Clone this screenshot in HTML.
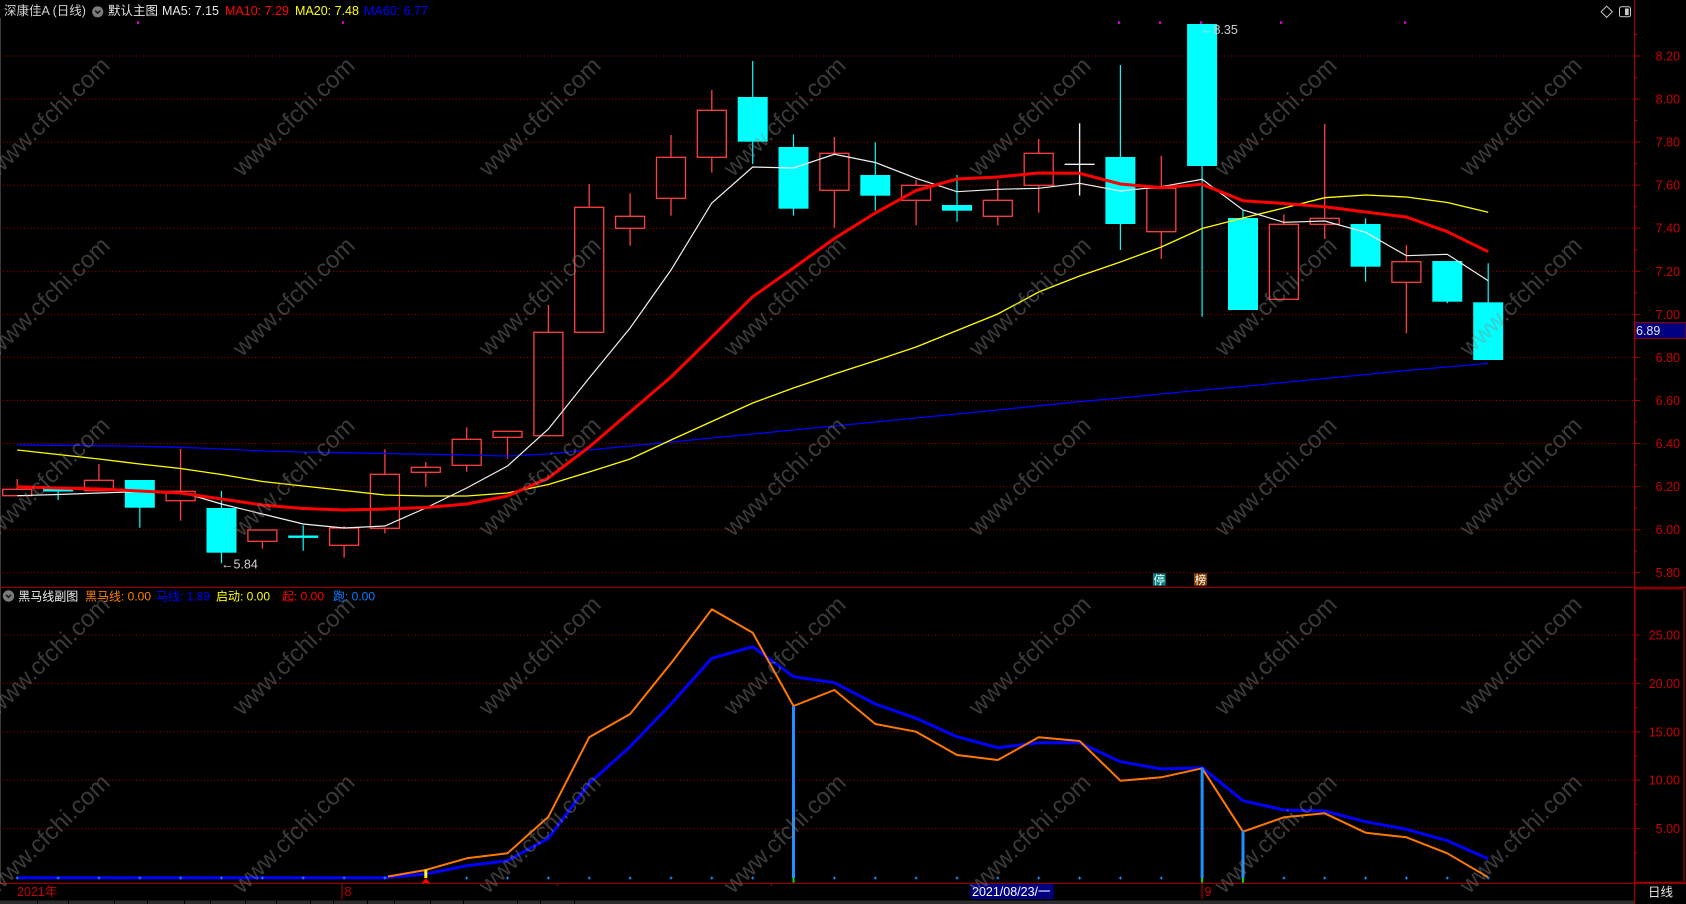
<!DOCTYPE html>
<html><head><meta charset="utf-8"><style>
html,body{margin:0;padding:0;background:#000;}
svg{display:block;}
text{font-family:"Liberation Sans","DejaVu Sans","Noto Sans CJK SC",sans-serif;}
</style></head><body>
<svg width="1686" height="904" viewBox="0 0 1686 904" xmlns="http://www.w3.org/2000/svg">
<rect x="0" y="0" width="1686" height="904" fill="#000"/>
<!-- left border -->
<line x1="0.5" y1="18" x2="0.5" y2="883" stroke="#3a3a3a" stroke-width="1"/>
<!-- main gridlines -->
<g stroke="#a00000" stroke-width="1" stroke-dasharray="1 2.4">
<line x1="0" y1="56" x2="1634" y2="56"/>
<line x1="0" y1="99.1" x2="1634" y2="99.1"/>
<line x1="0" y1="142.1" x2="1634" y2="142.1"/>
<line x1="0" y1="185.2" x2="1634" y2="185.2"/>
<line x1="0" y1="228.2" x2="1634" y2="228.2"/>
<line x1="0" y1="271.3" x2="1634" y2="271.3"/>
<line x1="0" y1="314.4" x2="1634" y2="314.4"/>
<line x1="0" y1="357.4" x2="1634" y2="357.4"/>
<line x1="0" y1="400.5" x2="1634" y2="400.5"/>
<line x1="0" y1="443.5" x2="1634" y2="443.5"/>
<line x1="0" y1="486.6" x2="1634" y2="486.6"/>
<line x1="0" y1="529.7" x2="1634" y2="529.7"/>
<line x1="0" y1="572.7" x2="1634" y2="572.7"/>
<!-- sub gridlines -->
<line x1="0" y1="635" x2="1634" y2="635"/>
<line x1="0" y1="683.4" x2="1634" y2="683.4"/>
<line x1="0" y1="731.8" x2="1634" y2="731.8"/>
<line x1="0" y1="780.2" x2="1634" y2="780.2"/>
<line x1="0" y1="828.6" x2="1634" y2="828.6"/>
</g>
<!-- separators and axes -->
<g stroke="#a00000" stroke-width="1.2" fill="none">
<line x1="0" y1="587.3" x2="1686" y2="587.3"/>
<line x1="0" y1="883.3" x2="1686" y2="883.3"/>
<line x1="1634.5" y1="0" x2="1634.5" y2="904"/>
<rect x="1635" y="588.8" width="49" height="293.5"/>
<line x1="342" y1="883" x2="342" y2="899"/>
<line x1="1202" y1="883" x2="1202" y2="899"/>
<line x1="557.5" y1="883" x2="557.5" y2="886"/>
<line x1="771.5" y1="883" x2="771.5" y2="886"/>
</g>
<!-- main axis ticks -->
<g stroke="#a00000" stroke-width="1">
<line x1="1634" y1="56" x2="1640.5" y2="56"/><line x1="1634" y1="77.6" x2="1637.5" y2="77.6"/>
<line x1="1634" y1="99.1" x2="1640.5" y2="99.1"/><line x1="1634" y1="120.6" x2="1637.5" y2="120.6"/>
<line x1="1634" y1="142.1" x2="1640.5" y2="142.1"/><line x1="1634" y1="163.7" x2="1637.5" y2="163.7"/>
<line x1="1634" y1="185.2" x2="1640.5" y2="185.2"/><line x1="1634" y1="206.7" x2="1637.5" y2="206.7"/>
<line x1="1634" y1="228.2" x2="1640.5" y2="228.2"/><line x1="1634" y1="249.8" x2="1637.5" y2="249.8"/>
<line x1="1634" y1="271.3" x2="1640.5" y2="271.3"/><line x1="1634" y1="292.8" x2="1637.5" y2="292.8"/>
<line x1="1634" y1="314.4" x2="1640.5" y2="314.4"/><line x1="1634" y1="335.9" x2="1637.5" y2="335.9"/>
<line x1="1634" y1="357.4" x2="1640.5" y2="357.4"/><line x1="1634" y1="379" x2="1637.5" y2="379"/>
<line x1="1634" y1="400.5" x2="1640.5" y2="400.5"/><line x1="1634" y1="422" x2="1637.5" y2="422"/>
<line x1="1634" y1="443.5" x2="1640.5" y2="443.5"/><line x1="1634" y1="465" x2="1637.5" y2="465"/>
<line x1="1634" y1="486.6" x2="1640.5" y2="486.6"/><line x1="1634" y1="508.1" x2="1637.5" y2="508.1"/>
<line x1="1634" y1="529.7" x2="1640.5" y2="529.7"/><line x1="1634" y1="551.2" x2="1637.5" y2="551.2"/>
<line x1="1634" y1="572.7" x2="1640.5" y2="572.7"/><line x1="1634" y1="34.5" x2="1637.5" y2="34.5"/>
<!-- sub ticks -->
<line x1="1634" y1="635" x2="1640.5" y2="635"/><line x1="1634" y1="659.2" x2="1637.5" y2="659.2"/>
<line x1="1634" y1="683.4" x2="1640.5" y2="683.4"/><line x1="1634" y1="707.6" x2="1637.5" y2="707.6"/>
<line x1="1634" y1="731.8" x2="1640.5" y2="731.8"/><line x1="1634" y1="756" x2="1637.5" y2="756"/>
<line x1="1634" y1="780.2" x2="1640.5" y2="780.2"/><line x1="1634" y1="804.4" x2="1637.5" y2="804.4"/>
<line x1="1634" y1="828.6" x2="1640.5" y2="828.6"/><line x1="1634" y1="852.8" x2="1637.5" y2="852.8"/>
</g>
<!-- axis labels -->
<g fill="#c80000" font-size="12.5" text-anchor="end">
<text x="1680" y="60.5">8.20</text>
<text x="1680" y="103.6">8.00</text>
<text x="1680" y="146.6">7.80</text>
<text x="1680" y="189.7">7.60</text>
<text x="1680" y="232.7">7.40</text>
<text x="1680" y="275.8">7.20</text>
<text x="1680" y="318.9">7.00</text>
<text x="1680" y="361.9">6.80</text>
<text x="1680" y="405">6.60</text>
<text x="1680" y="448">6.40</text>
<text x="1680" y="491.1">6.20</text>
<text x="1680" y="534.2">6.00</text>
<text x="1680" y="577.2">5.80</text>
<text x="1680" y="639.5">25.00</text>
<text x="1680" y="687.9">20.00</text>
<text x="1680" y="736.3">15.00</text>
<text x="1680" y="784.7">10.00</text>
<text x="1680" y="833.1">5.00</text>
</g>
<rect x="1635" y="322.7" width="51" height="15.6" fill="#000080" stroke="#a00000" stroke-width="1"/>
<text x="1636" y="335" fill="#e6e6e6" font-size="12.5">6.89</text>

<!-- candles: up (hollow red) -->
<g stroke="#ff4040" stroke-width="1.3" fill="none">
<rect x="2.7" y="489.3" width="29" height="6.4"/><line x1="17.2" y1="479" x2="17.2" y2="489.3"/>
<rect x="84.4" y="480.3" width="29" height="10.4"/><line x1="98.9" y1="464" x2="98.9" y2="480.3"/>
<rect x="166.1" y="491.3" width="29" height="9.4"/><line x1="180.6" y1="449" x2="180.6" y2="491.3"/><line x1="180.6" y1="500.7" x2="180.6" y2="520.7"/>
<rect x="247.9" y="530" width="29" height="11.3"/><line x1="262.4" y1="541.3" x2="262.4" y2="548.7"/>
<rect x="329.6" y="528" width="29" height="17.3"/><line x1="344.1" y1="526" x2="344.1" y2="528"/><line x1="344.1" y1="545.3" x2="344.1" y2="557.7"/>
<rect x="370.4" y="474.3" width="29" height="54"/><line x1="384.9" y1="449.3" x2="384.9" y2="474.3"/><line x1="384.9" y1="528.3" x2="384.9" y2="533.3"/>
<rect x="411.3" y="467.3" width="29" height="5"/><line x1="425.8" y1="462" x2="425.8" y2="467.3"/><line x1="425.8" y1="472.3" x2="425.8" y2="486.7"/>
<rect x="452.2" y="439.3" width="29" height="26"/><line x1="466.7" y1="427.3" x2="466.7" y2="439.3"/><line x1="466.7" y1="465.3" x2="466.7" y2="471.7"/>
<rect x="493" y="431.3" width="29" height="6"/><line x1="507.5" y1="437.3" x2="507.5" y2="458.7"/>
<rect x="533.9" y="332.3" width="29" height="103.4"/><line x1="548.4" y1="305" x2="548.4" y2="332.3"/>
<rect x="574.7" y="207.3" width="29" height="125"/><line x1="589.2" y1="184" x2="589.2" y2="207.3"/>
<rect x="615.6" y="216.3" width="29" height="12"/><line x1="630.1" y1="193.3" x2="630.1" y2="216.3"/><line x1="630.1" y1="228.3" x2="630.1" y2="245.7"/>
<rect x="656.5" y="157.3" width="29" height="41"/><line x1="671" y1="135" x2="671" y2="157.3"/><line x1="671" y1="198.3" x2="671" y2="215.7"/>
<rect x="697.3" y="110.3" width="29" height="47"/><line x1="711.8" y1="90" x2="711.8" y2="110.3"/><line x1="711.8" y1="157.3" x2="711.8" y2="172.7"/>
<rect x="819.9" y="153.3" width="29" height="37"/><line x1="834.4" y1="137" x2="834.4" y2="153.3"/><line x1="834.4" y1="190.3" x2="834.4" y2="227.7"/>
<rect x="901.6" y="185.3" width="29" height="15"/><line x1="916.1" y1="180" x2="916.1" y2="185.3"/><line x1="916.1" y1="200.3" x2="916.1" y2="225.3"/>
<rect x="983.3" y="200.3" width="29" height="16"/><line x1="997.8" y1="180" x2="997.8" y2="200.3"/><line x1="997.8" y1="216.3" x2="997.8" y2="225.3"/>
<rect x="1024.2" y="153.3" width="29" height="32"/><line x1="1038.7" y1="139" x2="1038.7" y2="153.3"/><line x1="1038.7" y1="185.3" x2="1038.7" y2="212.7"/>
<rect x="1146.8" y="188.3" width="29" height="43.4"/><line x1="1161.3" y1="156" x2="1161.3" y2="188.3"/><line x1="1161.3" y1="231.7" x2="1161.3" y2="259"/>
<rect x="1269.4" y="224.3" width="29" height="75"/><line x1="1283.9" y1="214.3" x2="1283.9" y2="224.3"/>
<rect x="1310.2" y="218.3" width="29" height="6"/><line x1="1324.7" y1="124" x2="1324.7" y2="218.3"/><line x1="1324.7" y1="224.3" x2="1324.7" y2="239"/>
<rect x="1391.9" y="261.7" width="29" height="20.6"/><line x1="1406.4" y1="245" x2="1406.4" y2="261.7"/><line x1="1406.4" y1="282.3" x2="1406.4" y2="333.3"/>
</g>
<!-- candles: down (cyan) -->
<g stroke="#00ffff" stroke-width="1.2">
<line x1="58.1" y1="489" x2="58.1" y2="500"/>
<line x1="139.8" y1="480" x2="139.8" y2="527.7"/>
<line x1="221.5" y1="491" x2="221.5" y2="563.3"/>
<line x1="303.2" y1="525.3" x2="303.2" y2="550.7"/>
<line x1="752.7" y1="61" x2="752.7" y2="164"/>
<line x1="793.5" y1="134.3" x2="793.5" y2="215.7"/>
<line x1="875.3" y1="142.3" x2="875.3" y2="210.7"/>
<line x1="957" y1="175" x2="957" y2="221.7"/>
<line x1="1120.4" y1="65" x2="1120.4" y2="250"/>
<line x1="1202.1" y1="24" x2="1202.1" y2="316.7"/>
<line x1="1243" y1="210" x2="1243" y2="310"/>
<line x1="1365.6" y1="218.3" x2="1365.6" y2="281.7"/>
<line x1="1447.3" y1="261" x2="1447.3" y2="303.3"/>
<line x1="1488.2" y1="263.3" x2="1488.2" y2="360"/>
</g>
<g fill="#00ffff">
<rect x="43.1" y="489" width="30" height="2.5"/>
<rect x="124.8" y="480" width="30" height="27.7"/>
<rect x="206.5" y="508" width="30" height="44.7"/>
<rect x="288.2" y="535.5" width="30" height="2.4"/>
<rect x="737.7" y="97" width="30" height="44.7"/>
<rect x="778.5" y="147" width="30" height="61.7"/>
<rect x="860.3" y="175" width="30" height="20.7"/>
<rect x="942" y="205" width="30" height="5.7"/>
<rect x="1105.4" y="157" width="30" height="67"/>
<rect x="1187.1" y="24" width="30" height="142"/>
<rect x="1228" y="218" width="30" height="92"/>
<rect x="1350.6" y="224" width="30" height="42.7"/>
<rect x="1432.3" y="261" width="30" height="40.7"/>
<rect x="1473.2" y="302.3" width="30" height="57.7"/>
</g>
<!-- white doji -->
<g stroke="#f0f0f0" stroke-width="1.4">
<line x1="1064.6" y1="164.3" x2="1094.6" y2="164.3"/>
<line x1="1079.6" y1="123.3" x2="1079.6" y2="195.5"/>
</g>

<!-- MA lines -->
<polyline fill="none" stroke="#0000ff" stroke-width="1.3" points="17.2,445 58.1,445.3 98.9,445.7 139.8,446.3 180.6,447.3 221.5,449 262.4,451 303.2,452 344.1,452.7 384.9,453.5 425.8,454.3 466.7,455 507.5,456 548.4,454 589.2,450 630.1,446 671,442 711.8,438 752.7,434 793.5,430 834.4,426 875.3,422 916.1,418 957,414 997.8,410 1038.7,405.8 1079.6,401.7 1120.4,398 1161.3,394 1202.1,390 1243,386.5 1283.9,382.5 1324.7,378.5 1365.6,374.5 1406.4,370.5 1447.3,367 1488.2,363.3"/>
<polyline fill="none" stroke="#ffff00" stroke-width="1.3" points="17.2,450 58.1,454.5 98.9,459 139.8,464 180.6,468.5 221.5,474.5 262.4,481.5 303.2,486 344.1,490.5 384.9,495 425.8,496 466.7,496 507.5,493 548.4,484.5 589.2,472 630.1,459 671,440 711.8,421.5 752.7,403 793.5,388 834.4,374 875.3,360.7 916.1,347 957,330.5 997.8,314 1038.7,292 1079.6,276 1120.4,262 1161.3,247 1202.1,228.5 1243,218 1283.9,208 1324.7,197.7 1365.6,195 1406.4,197 1447.3,202.5 1488.2,212.3"/>
<polyline fill="none" stroke="#f0f0f0" stroke-width="1.2" points="17.2,495.7 58.1,494.5 98.9,493 139.8,491.7 180.6,492 221.5,504 262.4,514 303.2,524 344.1,528 384.9,526 425.8,508 466.7,488 507.5,466 548.4,429 589.2,378 630.1,328 671,270 711.8,203 752.7,167 793.5,168 834.4,154.3 875.3,162.5 916.1,178.3 957,191.7 997.8,189.3 1038.7,188.3 1079.6,183.3 1120.4,191 1161.3,186.7 1202.1,179.3 1243,210 1283.9,222.3 1324.7,221 1365.6,232.3 1406.4,255.7 1447.3,254.3 1488.2,280.7"/>
<polyline fill="none" stroke="#ff0000" stroke-width="3" stroke-linejoin="round" points="17.2,486.7 58.1,488 98.9,489 139.8,491 180.6,493 221.5,499 262.4,505 303.2,508.5 344.1,510 384.9,509 425.8,507.5 466.7,504 507.5,496 548.4,478 589.2,447 630.1,412 671,377 711.8,337 752.7,296.7 793.5,268 834.4,238.5 875.3,213 916.1,190.5 957,179 997.8,177 1038.7,173 1079.6,173.3 1120.4,184 1161.3,187.7 1202.1,184.3 1243,200.7 1283.9,203.5 1324.7,206.7 1365.6,212 1406.4,217 1447.3,231.7 1488.2,251.7"/>

<!-- price labels -->
<text x="221" y="568.5" fill="#d0d0d0" font-size="12.5">←5.84</text>
<text x="1201" y="34" fill="#d0d0d0" font-size="12.5">←8.35</text>

<!-- 停 榜 tags -->
<rect x="1153" y="573.3" width="12.7" height="12.4" fill="#008080"/>
<text x="1159.3" y="584" fill="#ffffff" font-size="11.5" text-anchor="middle" style="font-family:'Noto Sans CJK SC',sans-serif">停</text>
<rect x="1194" y="573.3" width="13" height="12.4" fill="#804000"/>
<text x="1200.5" y="584" fill="#ffffff" font-size="11.5" text-anchor="middle" style="font-family:'Noto Sans CJK SC',sans-serif">榜</text>

<!-- magenta dots -->
<g fill="#ff00ff">
<rect x="137" y="21.5" width="2.2" height="2.2"/>
<rect x="342" y="21.5" width="2.2" height="2.2"/>
<rect x="1118" y="21.5" width="2.2" height="2.2"/>
<rect x="1159" y="21.5" width="2.2" height="2.2"/>
<rect x="1200" y="21.5" width="2.2" height="2.2"/>
<rect x="1280" y="21.5" width="2.2" height="2.2"/>
<rect x="1404" y="21.5" width="2.2" height="2.2"/>
</g>

<!-- header -->
<g font-size="12.5">
<text x="4" y="15" fill="#d4d4d4">深康佳A (日线)</text>
<text x="108" y="15" fill="#e6e6e6">默认主图</text>
<text x="162" y="15" fill="#e6e6e6">MA5: 7.15</text>
<text x="225" y="15" fill="#ff0000">MA10: 7.29</text>
<text x="295" y="15" fill="#ffff00">MA20: 7.48</text>
<text x="364" y="15" fill="#0000ff">MA60: 6.77</text>
</g>
<circle cx="97.7" cy="11.8" r="5.6" fill="#7a7a7a"/>
<polyline points="95.2,10.6 97.7,13.2 100.2,10.6" fill="none" stroke="#111" stroke-width="1.4"/>
<!-- top right icons -->
<polygon points="1606.7,6.2 1612.3,11.8 1606.7,17.4 1601.1,11.8" fill="none" stroke="#c8c8c8" stroke-width="1"/>
<rect x="1619.5" y="6.8" width="11" height="10" rx="2" fill="none" stroke="#c8c8c8" stroke-width="1"/>
<rect x="1625" y="8.5" width="3.7" height="6.6" fill="#c8c8c8"/>

<!-- sub header -->
<circle cx="8.5" cy="596" r="5.7" fill="#7a7a7a"/>
<polyline points="6,594.8 8.5,597.4 11,594.8" fill="none" stroke="#111" stroke-width="1.4"/>
<g font-size="12">
<text x="18.3" y="600.3" fill="#f0f0f0">黑马线副图</text>
<text x="85" y="600.3" fill="#ff8000">黑马线: 0.00</text>
<text x="156" y="600.3" fill="#0000ff">马线: 1.89</text>
<text x="216" y="600.3" fill="#ffff00">启动: 0.00</text>
<text x="282" y="600.3" fill="#ff0000">起: 0.00</text>
<text x="333" y="600.3" fill="#0a7cff">跑: 0.00</text>
</g>

<!-- sub chart lines -->
<polyline fill="none" stroke="#0000ff" stroke-width="3" stroke-linejoin="round" points="17.2,877.7 58.1,877.7 98.9,877.7 139.8,877.7 180.6,877.7 221.5,877.7 262.4,877.7 303.2,877.7 344.1,877.7 384.9,877.7 425.8,874 466.7,865.7 507.5,860.7 548.4,838.3 589.2,783.3 630.1,746.7 671,704 711.8,658.3 752.7,646.7 793.5,676.7 834.4,682.7 875.3,704 916.1,718.3 957,736.7 997.8,747.7 1038.7,742.7 1079.6,742.7 1120.4,761.7 1161.3,769 1202.1,767.7 1243,800.7 1283.9,810 1324.7,811 1365.6,821.7 1406.4,829.3 1447.3,840.7 1488.2,858.7"/>
<polyline fill="none" stroke="#ff7800" stroke-width="2" stroke-linejoin="round" points="388,876.5 425.8,870 466.7,858.3 507.5,853.3 548.4,816.7 589.2,737.3 630.1,714 671,663.3 711.8,609.3 752.7,632.7 793.5,706 834.4,690 875.3,724 916.1,731.7 957,755 997.8,760 1038.7,737.3 1079.6,741 1120.4,780.7 1161.3,777.3 1202.1,768.3 1243,831.7 1283.9,817.3 1324.7,813.3 1365.6,832.7 1406.4,837.3 1447.3,853.3 1488.2,877.3"/>
<!-- zero-line markers -->
<g stroke="#1e90ff" stroke-width="1">
<path d="M15.7 878H18.7M17.2 876.5V879.5 M56.6 878H59.6M58.1 876.5V879.5 M97.4 878H100.4M98.9 876.5V879.5 M138.3 878H141.3M139.8 876.5V879.5 M179.1 878H182.1M180.6 876.5V879.5 M220 878H223M221.5 876.5V879.5 M260.9 878H263.9M262.4 876.5V879.5 M301.7 878H304.7M303.2 876.5V879.5 M342.6 878H345.6M344.1 876.5V879.5 M383.4 878H386.4M384.9 876.5V879.5 M465.2 878H468.2M466.7 876.5V879.5 M506 878H509M507.5 876.5V879.5 M546.9 878H549.9M548.4 876.5V879.5 M587.7 878H590.7M589.2 876.5V879.5 M628.6 878H631.6M630.1 876.5V879.5 M669.5 878H672.5M671 876.5V879.5 M710.3 878H713.3M711.8 876.5V879.5 M751.2 878H754.2M752.7 876.5V879.5 M832.9 878H835.9M834.4 876.5V879.5 M873.8 878H876.8M875.3 876.5V879.5 M914.6 878H917.6M916.1 876.5V879.5 M955.5 878H958.5M957 876.5V879.5 M996.3 878H999.3M997.8 876.5V879.5 M1037.2 878H1040.2M1038.7 876.5V879.5 M1078.1 878H1081.1M1079.6 876.5V879.5 M1118.9 878H1121.9M1120.4 876.5V879.5 M1159.8 878H1162.8M1161.3 876.5V879.5 M1282.4 878H1285.4M1283.9 876.5V879.5 M1323.2 878H1326.2M1324.7 876.5V879.5 M1364.1 878H1367.1M1365.6 876.5V879.5 M1404.9 878H1407.9M1406.4 876.5V879.5 M1445.8 878H1448.8M1447.3 876.5V879.5 M1486.7 878H1489.7M1488.2 876.5V879.5"/>
</g>
<!-- vertical signal lines -->
<g stroke="#1e90ff" stroke-width="3">
<line x1="793.5" y1="706" x2="793.5" y2="878"/>
<line x1="1202.1" y1="767.5" x2="1202.1" y2="878"/>
<line x1="1243" y1="831" x2="1243" y2="878"/>
</g>
<g stroke="#00e000" stroke-width="2">
<line x1="793.5" y1="878" x2="793.5" y2="882.7"/>
<line x1="1202.1" y1="878" x2="1202.1" y2="882.7"/>
<line x1="1243" y1="878" x2="1243" y2="882.7"/>
</g>
<rect x="424.3" y="869.5" width="3" height="8.5" fill="#ffff00"/>
<polygon points="421.6,883 430,883 425.8,878.3" fill="#ff0000"/>

<!-- bottom axis labels -->
<g font-size="12.5" fill="#c80000">
<text x="17" y="896">2021年</text>
<text x="344.5" y="896">8</text>
<text x="1204.5" y="896">9</text>
</g>
<rect x="970.4" y="884" width="83.3" height="15" fill="#000080"/>
<text x="972" y="896" fill="#ffffff" font-size="12.5">2021/08/23/一</text>
<text x="1648" y="896.5" fill="#e6e6e6" font-size="12.5">日线</text>
<!-- bottom tab bar -->
<rect x="0" y="900.5" width="1634" height="3.5" fill="#2c2c2c"/>
<g fill="#000">
<rect x="37" y="900.5" width="1" height="3.5"/><rect x="68" y="900.5" width="1" height="3.5"/>
<rect x="114" y="900.5" width="1" height="3.5"/><rect x="147" y="900.5" width="1" height="3.5"/>
<rect x="184" y="900.5" width="1" height="3.5"/><rect x="210" y="900.5" width="1" height="3.5"/>
<rect x="245" y="900.5" width="1" height="3.5"/><rect x="276" y="900.5" width="1" height="3.5"/>
<rect x="310" y="900.5" width="1" height="3.5"/><rect x="333" y="900.5" width="1" height="3.5"/>
<rect x="367" y="900.5" width="1" height="3.5"/><rect x="394" y="900.5" width="1" height="3.5"/>
<rect x="430" y="900.5" width="1" height="3.5"/><rect x="463" y="900.5" width="1" height="3.5"/>
<rect x="517" y="900.5" width="1" height="3.5"/><rect x="540" y="900.5" width="1" height="3.5"/>
<rect x="574" y="900.5" width="1" height="3.5"/>
</g>

<!-- watermark overlay -->
<g font-size="24" fill="#8a8a8a" fill-opacity="0.42" text-anchor="middle" dominant-baseline="central">
<text x="49" y="117" transform="rotate(-44 49 117)">www.cfchi.com</text>
<text x="294" y="117" transform="rotate(-44 294 117)">www.cfchi.com</text>
<text x="540" y="117" transform="rotate(-44 540 117)">www.cfchi.com</text>
<text x="785" y="117" transform="rotate(-44 785 117)">www.cfchi.com</text>
<text x="1030" y="117" transform="rotate(-44 1030 117)">www.cfchi.com</text>
<text x="1276" y="117" transform="rotate(-44 1276 117)">www.cfchi.com</text>
<text x="1521" y="117" transform="rotate(-44 1521 117)">www.cfchi.com</text>
<text x="49" y="297" transform="rotate(-44 49 297)">www.cfchi.com</text>
<text x="294" y="297" transform="rotate(-44 294 297)">www.cfchi.com</text>
<text x="540" y="297" transform="rotate(-44 540 297)">www.cfchi.com</text>
<text x="785" y="297" transform="rotate(-44 785 297)">www.cfchi.com</text>
<text x="1030" y="297" transform="rotate(-44 1030 297)">www.cfchi.com</text>
<text x="1276" y="297" transform="rotate(-44 1276 297)">www.cfchi.com</text>
<text x="1521" y="297" transform="rotate(-44 1521 297)">www.cfchi.com</text>
<text x="49" y="477" transform="rotate(-44 49 477)">www.cfchi.com</text>
<text x="294" y="477" transform="rotate(-44 294 477)">www.cfchi.com</text>
<text x="540" y="477" transform="rotate(-44 540 477)">www.cfchi.com</text>
<text x="785" y="477" transform="rotate(-44 785 477)">www.cfchi.com</text>
<text x="1030" y="477" transform="rotate(-44 1030 477)">www.cfchi.com</text>
<text x="1276" y="477" transform="rotate(-44 1276 477)">www.cfchi.com</text>
<text x="1521" y="477" transform="rotate(-44 1521 477)">www.cfchi.com</text>
<text x="49" y="656" transform="rotate(-44 49 656)">www.cfchi.com</text>
<text x="294" y="656" transform="rotate(-44 294 656)">www.cfchi.com</text>
<text x="540" y="656" transform="rotate(-44 540 656)">www.cfchi.com</text>
<text x="785" y="656" transform="rotate(-44 785 656)">www.cfchi.com</text>
<text x="1030" y="656" transform="rotate(-44 1030 656)">www.cfchi.com</text>
<text x="1276" y="656" transform="rotate(-44 1276 656)">www.cfchi.com</text>
<text x="1521" y="656" transform="rotate(-44 1521 656)">www.cfchi.com</text>
<text x="49" y="834" transform="rotate(-44 49 834)">www.cfchi.com</text>
<text x="294" y="834" transform="rotate(-44 294 834)">www.cfchi.com</text>
<text x="540" y="834" transform="rotate(-44 540 834)">www.cfchi.com</text>
<text x="785" y="834" transform="rotate(-44 785 834)">www.cfchi.com</text>
<text x="1030" y="834" transform="rotate(-44 1030 834)">www.cfchi.com</text>
<text x="1276" y="834" transform="rotate(-44 1276 834)">www.cfchi.com</text>
<text x="1521" y="834" transform="rotate(-44 1521 834)">www.cfchi.com</text>
</g>
</svg>
</body></html>
